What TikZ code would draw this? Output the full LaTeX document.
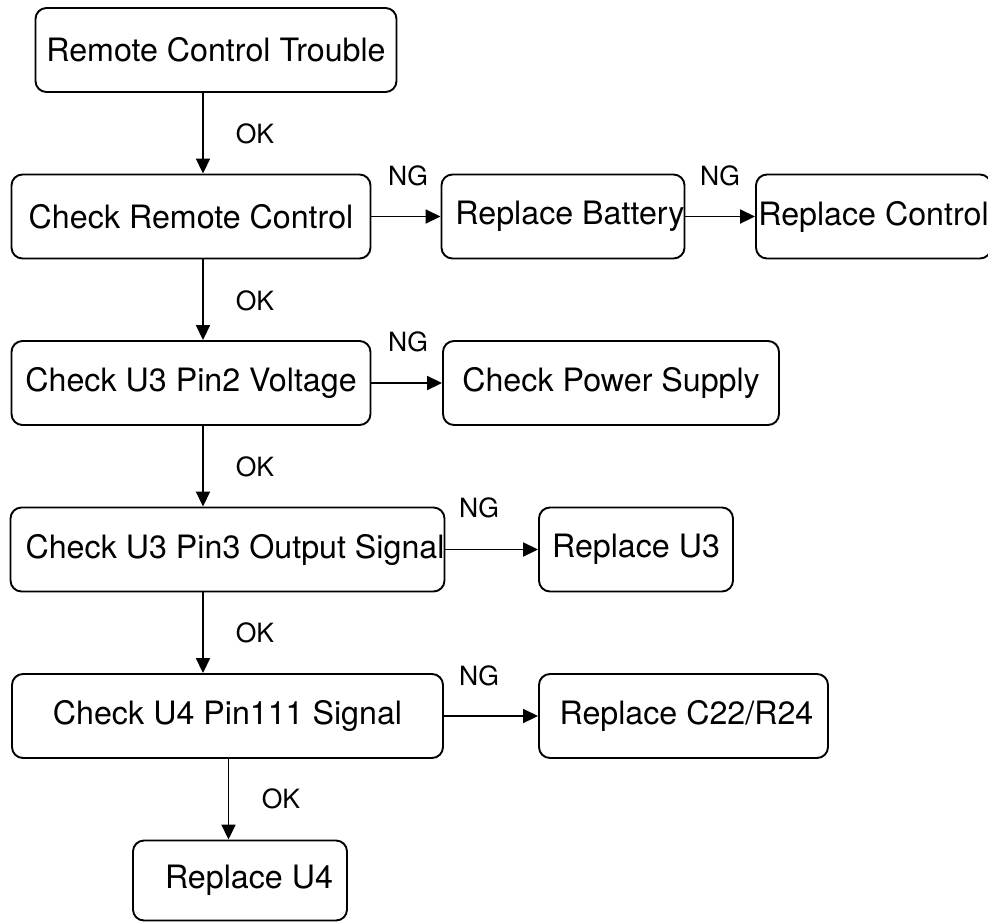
\documentclass[tikz,border=0pt]{standalone}
\usepackage{fontspec}
\setmainfont{TeX Gyre Heros}
\usetikzlibrary{arrows.meta}
\begin{document}
\begin{tikzpicture}[x=1pt,y=-1pt,
  box/.style={draw, line width=1.9pt, rounded corners=11pt, inner sep=0pt,
    minimum height=84pt, font=\fontsize{32.2}{36}\selectfont},
  lbl/.style={font=\fontsize{26.5}{30}\selectfont, inner sep=0pt},
  arr/.style={line width=1.8pt, -{Triangle[length=15pt,width=14pt]}}]
\useasboundingbox (0,0) rectangle (988,922);
\clip (0,0) rectangle (988,922);

% boxes
\node[box, minimum width=361pt] (b1) at (216,50) {Remote Control Trouble};
\node[box, minimum width=359pt] (b2) at (191,216.5) {Check Remote Control};
\node[box, minimum width=240pt] (b3) at (563,216.5) {\hspace{14pt}Replace Battery};
\node[box, minimum width=235pt] (b4) at (873.5,216.5) {Replace Control};
\node[box, minimum width=359pt] (b5) at (191,383) {Check U3 Pin2 Voltage};
\node[box, minimum width=336pt] (b6) at (611,383) {Check Power Supply};
\node[box, minimum width=431pt] (b7) at (227.5,549.5) {\hspace{15pt}Check U3 Pin3 Output Signal};
\node[box, minimum width=431pt] (b9) at (227.5,716) {Check U4 Pin111 Signal};
\node[box, minimum width=194pt] (b8) at (636,549.5) {Replace U3};
\node[box, minimum width=289pt] (b10) at (683.5,716) {\hspace{6pt}Replace C22/R24};
\node[box, minimum width=214pt, minimum height=80pt] (b11) at (240,880.5) {\hspace{18pt}Replace U4};

% vertical trunk positions
\coordinate (v1) at (203,0);
\coordinate (v2) at (228.5,0);

% OK connectors
\draw[arr] (v1 |- b1.south) -- (v1 |- b2.north);
\draw[arr] (v1 |- b2.south) -- (v1 |- b5.north);
\draw[arr] (v1 |- b5.south) -- (v1 |- b7.north);
\draw[arr] (v1 |- b7.south) -- (v1 |- b9.north);
\draw[arr] (v2 |- b9.south) -- (v2 |- b11.north);

% NG connectors
\draw[arr] (b2.east) -- (b3.west);
\draw[arr] (b3.east) -- (b4.west);
\draw[arr] (b5.east) -- (b6.west);
\draw[arr] (b7.east) -- (b8.west);
\draw[arr] (b9.east) -- (b10.west);

% labels
\node[lbl] (ok1) at (255,134) {OK};
\node[lbl] (ok2) at (255,301) {OK};
\node[lbl] (ok3) at (255,467) {OK};
\node[lbl] (ok4) at (255,633) {OK};
\node[lbl] (ok5) at (281,799) {OK};
\node[lbl] (ng1) at (408,176) {NG};
\node[lbl] (ng2) at (720,176) {NG};
\node[lbl] (ng3) at (408,342) {NG};
\node[lbl] (ng4) at (479,508) {NG};
\node[lbl] (ng5) at (479,676) {NG};
\end{tikzpicture}
\end{document}
